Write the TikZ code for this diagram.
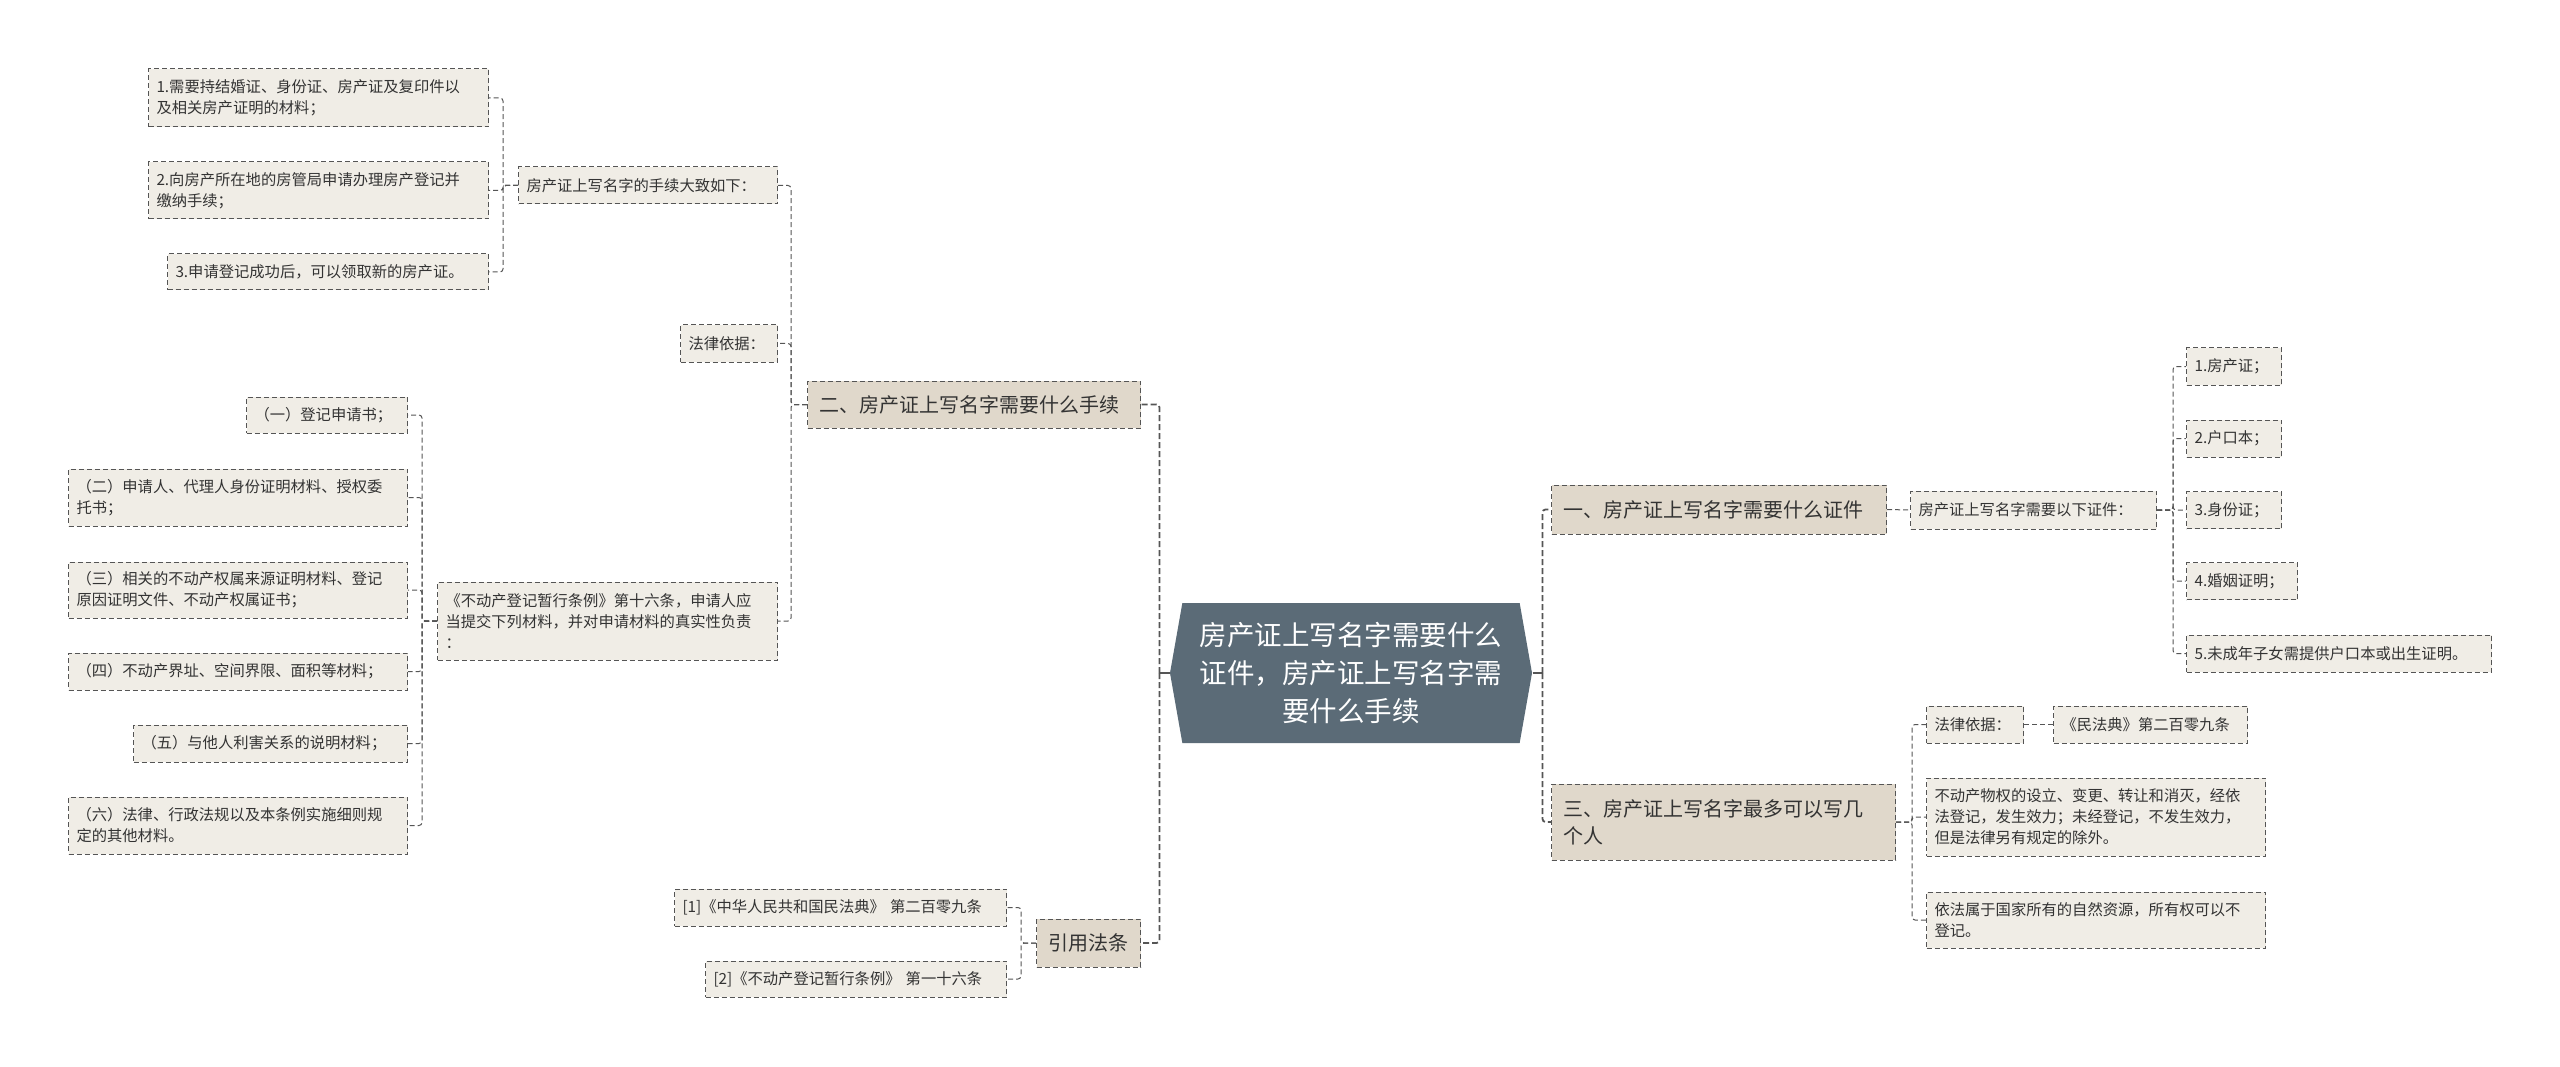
\documentclass[tikz,border=0pt]{standalone}
\usepackage{fontspec}
\setmainfont{Noto Sans CJK SC}
\usetikzlibrary{shapes.symbols}

\definecolor{rootbg}{HTML}{5B6B77}
\definecolor{branchbg}{HTML}{E0D8CB}
\definecolor{leafbg}{HTML}{F0EDE6}
\definecolor{linegray}{HTML}{555555}
\definecolor{textgray}{HTML}{333333}

\begin{document}
\begin{tikzpicture}[x=1pt, y=-1pt,
      every node/.style = {shape=rectangle, draw=linegray, dash pattern=on 5pt off 3pt,
        line width=1pt, text=textgray, align=left, inner ysep=0pt},
      leaf/.style = {fill=leafbg, inner xsep=8pt, font=\fontsize{15.3}{21}\selectfont},
      branch/.style = {fill=branchbg, inner xsep=12pt, font=\fontsize{20}{27}\selectfont},
      topic/.style = {signal, signal to=west and east, signal pointer angle=160,
        draw=none, fill=rootbg, text=white, align=center, inner sep=0pt,
        font=\fontsize{27.5}{38}\selectfont},
      link/.style = {draw=linegray, line width=1pt, dash pattern=on 5pt off 3pt, rounded corners=3pt},
      trunk/.style = {draw=linegray, line width=1.8pt, dash pattern=on 6pt off 3pt, rounded corners=3pt}]
  \fill[white] (0,0) rectangle (2560,1067);
  \useasboundingbox (0,0) rectangle (2560,1067);

  % centre
  \node[topic, minimum width=362pt, minimum height=140pt, text width=310pt] (root) at (1351,673)
    {房产证上写名字需要什么\\证件，房产证上写名字需\\要什么手续};

  % left branches
  \node[branch, anchor=east, text width=309pt, minimum height=47pt] (b2) at (1141,404.5)
    {二、房产证上写名字需要什么手续};
  \node[branch, anchor=east, text width=80pt, minimum height=48pt] (b4) at (1141,943)
    {引用法条};

  \node[leaf, anchor=east, text width=243pt, minimum height=37pt] (p1) at (778,185.5)
    {房产证上写名字的手续大致如下：};
  \node[leaf, anchor=east, text width=81pt, minimum height=37pt] (law1) at (778,343.5)
    {法律依据：};
  \node[leaf, anchor=east, text width=324pt, minimum height=78pt] (p2) at (778,621)
    {《不动产登记暂行条例》第十六条，申请人应\\当提交下列材料，并对申请材料的真实性负责\\：};

  \node[leaf, anchor=east, text width=324pt, minimum height=58pt] (s1) at (489,98)
    {1.需要持结婚证、身份证、房产证及复印件以\\及相关房产证明的材料；};
  \node[leaf, anchor=east, text width=324pt, minimum height=57pt] (s2) at (489,190.5)
    {2.向房产所在地的房管局申请办理房产登记并\\缴纳手续；};
  \node[leaf, anchor=east, text width=305pt, minimum height=36pt] (s3) at (489,272)
    {3.申请登记成功后，可以领取新的房产证。};

  \node[leaf, anchor=east, text width=145pt, minimum height=36pt] (q1) at (408,415)
    {（一）登记申请书；};
  \node[leaf, anchor=east, text width=323pt, minimum height=57pt] (q2) at (408,497.5)
    {（二）申请人、代理人身份证明材料、授权委\\托书；};
  \node[leaf, anchor=east, text width=323pt, minimum height=56pt] (q3) at (408,590)
    {（三）相关的不动产权属来源证明材料、登记\\原因证明文件、不动产权属证书；};
  \node[leaf, anchor=east, text width=323pt, minimum height=37pt] (q4) at (408,671.5)
    {（四）不动产界址、空间界限、面积等材料；};
  \node[leaf, anchor=east, text width=258pt, minimum height=37pt] (q5) at (408,743.5)
    {（五）与他人利害关系的说明材料；};
  \node[leaf, anchor=east, text width=323pt, minimum height=57pt] (q6) at (408,825.5)
    {（六）法律、行政法规以及本条例实施细则规\\定的其他材料。};

  \node[leaf, anchor=east, text width=316pt, minimum height=37pt] (r1) at (1007,907.5)
    {[1]《中华人民共和国民法典》 第二百零九条};
  \node[leaf, anchor=east, text width=285pt, minimum height=36pt] (r2) at (1007,979)
    {[2]《不动产登记暂行条例》 第一十六条};

  % right branches
  \node[branch, anchor=west, text width=311pt, minimum height=49pt] (b1) at (1551,509.5)
    {一、房产证上写名字需要什么证件};
  \node[branch, anchor=west, text width=320pt, minimum height=76pt] (b3) at (1551,822)
    {三、房产证上写名字最多可以写几\\个人};

  \node[leaf, anchor=west, text width=230pt, minimum height=38pt] (p3) at (1910,510)
    {房产证上写名字需要以下证件：};
  \node[leaf, anchor=west, text width=79pt, minimum height=37pt] (c1) at (2186,366.5) {1.房产证；};
  \node[leaf, anchor=west, text width=79pt, minimum height=37pt] (c2) at (2186,438.5) {2.户口本；};
  \node[leaf, anchor=west, text width=79pt, minimum height=37pt] (c3) at (2186,510) {3.身份证；};
  \node[leaf, anchor=west, text width=95pt, minimum height=37pt] (c4) at (2186,581) {4.婚姻证明；};
  \node[leaf, anchor=west, text width=289pt, minimum height=37pt] (c5) at (2186,653.5)
    {5.未成年子女需提供户口本或出生证明。};

  \node[leaf, anchor=west, text width=81pt, minimum height=37pt] (law2) at (1926,724.5)
    {法律依据：};
  \node[leaf, anchor=west, text width=178pt, minimum height=37pt] (law2x) at (2053,724.5)
    {《民法典》第二百零九条};
  \node[leaf, anchor=west, text width=323pt, minimum height=78pt] (d1) at (1926,817)
    {不动产物权的设立、变更、转让和消灭，经依\\法登记，发生效力；未经登记，不发生效力，\\但是法律另有规定的除外。};
  \node[leaf, anchor=west, text width=323pt, minimum height=56pt] (d2) at (1926,920)
    {依法属于国家所有的自然资源，所有权可以不\\登记。};

  % connectors
  \draw[draw=linegray, line width=1.8pt] (root.west) -- ++(-10,0) coordinate (lbus);
  \draw[draw=linegray, line width=1.8pt] (root.east) -- ++(10,0) coordinate (rbus);
  \foreach \n in {b2,b4}
    \draw[trunk] (lbus) |- (\n.east);
  \foreach \n in {b1,b3}
    \draw[trunk] (rbus) |- (\n.west);

  \foreach \n in {p1,law1,p2}
    \draw[link] (b2.west) -- ++(-16,0) |- (\n.east);
  \foreach \n in {s1,s2,s3}
    \draw[link] (p1.west) -- ++(-15,0) |- (\n.east);
  \foreach \n in {q1,q2,q3,q4,q5,q6}
    \draw[link] (p2.west) -- ++(-15,0) |- (\n.east);
  \foreach \n in {r1,r2}
    \draw[link] (b4.west) -- ++(-15,0) |- (\n.east);

  \draw[link] (b1.east) -- (p3.west);
  \foreach \n in {c1,c2,c3,c4,c5}
    \draw[link] (p3.east) -- ++(16,0) |- (\n.west);
  \foreach \n in {law2,d1,d2}
    \draw[link] (b3.east) -- ++(16,0) |- (\n.west);
  \draw[link] (law2.east) -- (law2x.west);
\end{tikzpicture}
\end{document}
